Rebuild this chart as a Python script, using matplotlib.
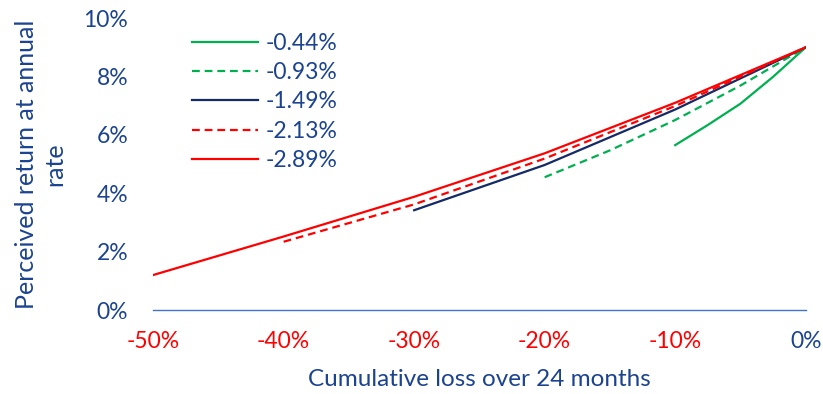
import numpy as np
from matplotlib import pyplot as plt
from matplotlib.ticker import FuncFormatter

# cumulative loss (x) and perceived annual return (y)
loss_044 = [-0.10, -0.075, -0.05, -0.025, 0.0]
ret_044 = [0.0565, 0.0634, 0.0707, 0.0799, 0.090]

loss_093 = [-0.20, -0.15, -0.10, -0.05, 0.0]
ret_093 = [0.0455, 0.0547, 0.0651, 0.0769, 0.090]

loss_149 = [-0.30, -0.20, -0.10, 0.0]
ret_149 = [0.0342, 0.0497, 0.0687, 0.090]

loss_213 = [-0.40, -0.30, -0.20, -0.10, 0.0]
ret_213 = [0.0234, 0.0362, 0.0519, 0.0699, 0.090]

loss_289 = [-0.50, -0.40, -0.30, -0.20, -0.10, 0.0]
ret_289 = [0.0120, 0.0252, 0.0388, 0.0537, 0.0710, 0.090]

labels = ["-0.44%", "-0.93%", "-1.49%", "-2.13%", "-2.89%"]
x_ticks = [-0.5, -0.4, -0.3, -0.2, -0.1, 0.0]
y_ticks = [0.0, 0.02, 0.04, 0.06, 0.08, 0.10]

navy_txt = "#1B438F"
green = "#00B050"
navy = "#142A66"
red = "#FF0000"

plt.rcParams['font.family'] = ['Lato', 'DejaVu Sans']

fig = plt.figure(figsize=(8.23, 3.94), dpi=100)
ax = fig.add_axes([0.186, 0.213, 0.793, 0.741])

dash = (0, (3.5, 2.2))
ax.plot(loss_044, ret_044, color=green, lw=1.6, label=labels[0])
ax.plot(loss_093, ret_093, color=green, lw=1.6, ls=dash, label=labels[1])
ax.plot(loss_149, ret_149, color=navy, lw=1.6, label=labels[2])
ax.plot(loss_213, ret_213, color=red, lw=1.6, ls=dash, label=labels[3])
ax.plot(loss_289, ret_289, color=red, lw=1.6, label=labels[4])

ax.set_xlim(-0.5, 0.0)
ax.set_ylim(0, 0.10)
for s in ["top", "right", "left"]:
    ax.spines[s].set_visible(False)
ax.spines["bottom"].set_color("#4472C4")
ax.spines["bottom"].set_linewidth(1.0)
ax.spines["bottom"].set_bounds(-0.5, 0.0)

ax.set_xticks(x_ticks)
ax.set_yticks(y_ticks)
ax.xaxis.set_major_formatter(FuncFormatter(lambda v, p: "{:.0f}%".format(v * 100) if abs(v) > 1e-9 else "0%"))
ax.yaxis.set_major_formatter(FuncFormatter(lambda v, p: "{:.0f}%".format(v * 100)))
ax.tick_params(axis="x", length=0, pad=15, labelsize=16.5)
ax.tick_params(axis="y", length=0, pad=18, labelsize=16.5, labelcolor=navy_txt)
for t in ax.get_xticklabels():
    t.set_color(red)
ax.get_xticklabels()[-1].set_color(navy_txt)

ax.set_xlabel("Cumulative loss over 24 months", color=navy_txt, fontsize=17.5, labelpad=12)
ax.set_ylabel("Perceived return at annual\nrate", color=navy_txt, fontsize=18,
              labelpad=12, linespacing=1.3)

leg = ax.legend(loc="upper left", bbox_to_anchor=(0.222, 0.94), bbox_transform=fig.transFigure,
                frameon=False, fontsize=16.5, handlelength=2.9, handletextpad=0.3,
                labelspacing=0.36, borderaxespad=0)
for t in leg.get_texts():
    t.set_color(navy_txt)

fig.savefig("out.png", dpi=100)
